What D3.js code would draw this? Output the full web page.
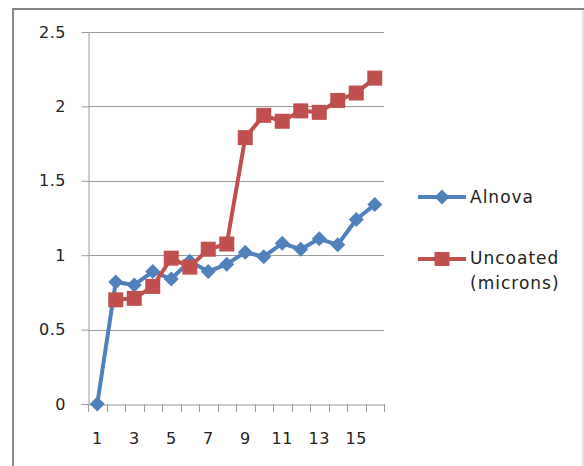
<!DOCTYPE html>
<html>
<head>
<meta charset="utf-8">
<script src="https://cdn.jsdelivr.net/npm/d3@7"></script>
<style>
  html, body { margin: 0; padding: 0; background: #fff; }
  svg { display: block; font-family: "DejaVu Sans", Verdana, sans-serif; }
</style>
</head>
<body>
<svg id="chart" width="584" height="466"></svg>
<script>
// Sample index along the x axis
const categories = [1, 2, 3, 4, 5, 6, 7, 8, 9, 10, 11, 12, 13, 14, 15, 16];
// Measured thickness per sample
const alnova   = [0, 0.82, 0.80, 0.89, 0.84, 0.96, 0.89, 0.94, 1.02, 0.99, 1.08, 1.04, 1.11, 1.07, 1.24, 1.34];
const uncoated = [null, 0.70, 0.71, 0.79, 0.98, 0.92, 1.04, 1.075, 1.79, 1.94, 1.90, 1.97, 1.96, 2.04, 2.09, 2.19];
const seriesNames = ["Alnova", ["Uncoated", "(microns)"]];
const yTicks = [0, 0.5, 1, 1.5, 2, 2.5];
const xLabelValues = [1, 3, 5, 7, 9, 11, 13, 15];

const BLUE = "#4F81BD", RED = "#C0504D";
const svg = d3.select("#chart");

svg.append("rect").attr("width", 584).attr("height", 466).attr("fill", "#fff");

// chart frame
svg.append("line").attr("x1", 12).attr("x2", 584).attr("y1", 9).attr("y2", 9)
  .attr("stroke", "#858585").attr("stroke-width", 2);
svg.append("line").attr("x1", 13).attr("x2", 13).attr("y1", 8).attr("y2", 466)
  .attr("stroke", "#8a8a8a").attr("stroke-width", 2);
svg.append("line").attr("x1", 583).attr("x2", 583).attr("y1", 10).attr("y2", 466)
  .attr("stroke", "#d8d8d8").attr("stroke-width", 1.5);

const x = d3.scaleBand().domain(categories).range([88, 384]).padding(0);
const y = d3.scaleLinear().domain([0, 2.5]).range([404, 32]);
const cx = d => x(d) + x.bandwidth() / 2;

// horizontal gridlines
svg.append("g").selectAll("line").data(yTicks.filter(v => v > 0)).join("line")
  .attr("x1", 88).attr("x2", 384)
  .attr("y1", d => Math.round(y(d)) + 0.5).attr("y2", d => Math.round(y(d)) + 0.5)
  .attr("stroke", "#9a9a9a").attr("stroke-width", 1);

// y axis
const yAxis = svg.append("g").attr("transform", "translate(88.5,0)")
  .call(d3.axisLeft(y).tickValues(yTicks).tickSize(7).tickSizeOuter(0)
    .tickFormat(d => d === 0 ? "0" : String(d)));
yAxis.select(".domain").attr("stroke", "#9a9a9a");
yAxis.selectAll(".tick line").attr("stroke", "#9a9a9a");
yAxis.selectAll(".tick text").attr("x", -22.5).attr("font-size", 16)
  .attr("letter-spacing", 0.5).attr("fill", "#222").attr("font-family", "DejaVu Sans");

// x axis: labels at every other category, ticks on band boundaries
const xAxis = svg.append("g").attr("transform", "translate(0,404.5)")
  .call(d3.axisBottom(x).tickValues(xLabelValues).tickSize(0).tickPadding(28).tickSizeOuter(0));
xAxis.select(".domain").attr("stroke", "#9a9a9a");
xAxis.selectAll(".tick text").attr("font-size", 16).attr("letter-spacing", 0.5)
  .attr("fill", "#222").attr("font-family", "DejaVu Sans");
const bounds = categories.map(d => x(d)).concat([x.range()[1]]);
svg.append("g").selectAll("line").data(bounds).join("line")
  .attr("x1", d => Math.round(d) + 0.5).attr("x2", d => Math.round(d) + 0.5)
  .attr("y1", 404).attr("y2", 412)
  .attr("stroke", "#9a9a9a");

// series
const line = d3.line()
  .defined(d => d.v != null)
  .x(d => cx(d.c)).y(d => y(d.v));

const blueData = categories.map((c, i) => ({ c, v: alnova[i] }));
const redData = categories.map((c, i) => ({ c, v: uncoated[i] }));

const diamond = s => `M0,${-s}L${s},0L0,${s}L${-s},0Z`;

svg.append("path").datum(blueData).attr("d", line)
  .attr("fill", "none").attr("stroke", BLUE).attr("stroke-width", 4)
  .attr("stroke-linejoin", "round");
svg.append("g").selectAll("path").data(blueData).join("path")
  .attr("transform", d => `translate(${cx(d.c)},${y(d.v)})`)
  .attr("d", diamond(7.5)).attr("fill", BLUE);

svg.append("path").datum(redData).attr("d", line)
  .attr("fill", "none").attr("stroke", RED).attr("stroke-width", 4)
  .attr("stroke-linejoin", "round");
svg.append("g").selectAll("rect").data(redData.filter(d => d.v != null)).join("rect")
  .attr("x", d => cx(d.c) - 7.5).attr("y", d => y(d.v) - 7.5)
  .attr("width", 15).attr("height", 15).attr("fill", RED);

// legend
const lg = svg.append("g");
lg.append("line").attr("x1", 418).attr("x2", 466).attr("y1", 197).attr("y2", 197)
  .attr("stroke", BLUE).attr("stroke-width", 4);
lg.append("path").attr("transform", "translate(442,197)").attr("d", diamond(7.5)).attr("fill", BLUE);
lg.append("text").attr("x", 470).attr("y", 197).attr("dy", "0.36em")
  .attr("font-size", 17).attr("letter-spacing", 1).attr("fill", "#222").text(seriesNames[0]);

lg.append("line").attr("x1", 418).attr("x2", 466).attr("y1", 259).attr("y2", 259)
  .attr("stroke", RED).attr("stroke-width", 4);
lg.append("rect").attr("x", 434.5).attr("y", 252).attr("width", 15).attr("height", 14).attr("fill", RED);
const t2 = lg.append("text").attr("x", 470).attr("y", 258).attr("dy", "0.36em")
  .attr("font-size", 17).attr("letter-spacing", 1).attr("fill", "#222");
t2.selectAll("tspan").data(seriesNames[1]).join("tspan")
  .attr("x", 470).attr("dy", (d, i) => i === 0 ? "0.36em" : 25).text(d => d);
</script>
</body>
</html>
